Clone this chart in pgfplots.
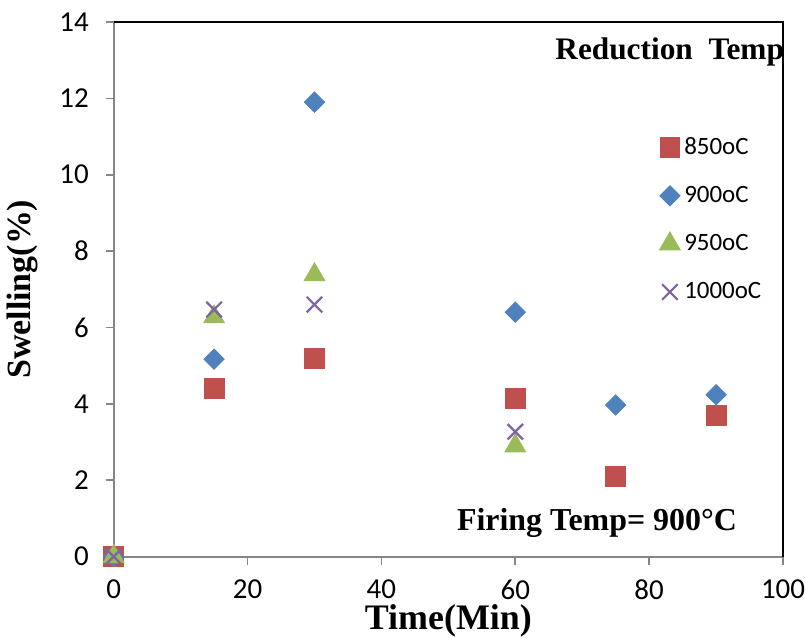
\documentclass[border=0pt]{standalone}
\usepackage{pgfplots}
\pgfplotsset{compat=1.18}
\usepackage{fontspec}
\setmainfont{Liberation Serif}
\newfontfamily\calibri{Carlito}
\definecolor{cRed}{HTML}{C0504D}
\definecolor{cBlue}{HTML}{4F81BD}
\definecolor{cGreen}{HTML}{9BBB59}
\definecolor{cPurple}{HTML}{8064A2}
\definecolor{axgray}{HTML}{868686}
\begin{document}
\begin{tikzpicture}
\begin{axis}[
    width=335.5pt, height=268pt, scale only axis,
    xmin=0, xmax=100, ymin=0, ymax=14,
    xtick distance=20, ytick distance=2,
    axis x line*=bottom, axis y line*=left,
    axis line style={axgray, line width=1pt},
    tick style={axgray, line width=0.8pt},
    tick align=outside, major tick length=4pt,
    /pgf/number format/assume math mode=true,
    tick label style={font=\calibri\fontsize{14.5}{17}\selectfont},
    yticklabel style={xshift=-5pt},
    xticklabel style={yshift=-7.3pt, inner xsep=0pt, inner ysep=0pt},
    xlabel={\textbf{Time(Min)}},
    ylabel={\textbf{Swelling(\%)}},
    xlabel style={font=\fontsize{18}{20}\selectfont, inner ysep=0pt, yshift=-2.5pt},
    ylabel style={font=\fontsize{17}{20}\selectfont, yshift=4pt},
    clip=false,
    legend style={draw=none, fill=none, at={(rel axis cs:0.806,0.80)}, anchor=north west,
        font=\calibri\fontsize{12.5}{15}\selectfont, row sep=10.5pt},
    legend cell align=left,
]
\path (rel axis cs:0,1) ++(0,11pt);
\draw[black, line width=0.75pt] (rel axis cs:0,1) -- (rel axis cs:1,1) -- (rel axis cs:1,0);
\addplot[only marks, mark=square*, mark size=5pt, color=cRed] coordinates {
(0,0) (15,4.4) (30,5.18) (60,4.14) (75,2.11) (90,3.69)};
\addlegendentry{850oC}
\addplot[only marks, mark=square*, mark size=3.6pt, mark options={rotate=45}, color=cBlue] coordinates {
(0,0) (15,5.17) (30,11.9) (60,6.4) (75,3.97) (90,4.24)};
\addlegendentry{900oC}
\addplot[only marks, mark=triangle*, mark size=6pt, color=cGreen] coordinates {
(0,0) (15,6.28) (30,7.38) (60,2.9)};
\addlegendentry{950oC}
\addplot[only marks, mark=x, mark size=5.5pt, line width=1.1pt, color=cPurple] coordinates {
(0,0) (15,6.47) (30,6.6) (60,3.27)};
\addlegendentry{1000oC}
\node[anchor=east, inner sep=0pt, font=\bfseries\fontsize{15.7}{18}\selectfont] at (rel axis cs:1.002,0.944) {Reduction\ \ Temp};
\node[anchor=center, inner sep=0pt, font=\bfseries\fontsize{16}{18}\selectfont] at (rel axis cs:0.722,0.063) {Firing Temp= 900\textdegree C};
\end{axis}
\end{tikzpicture}
\end{document}
